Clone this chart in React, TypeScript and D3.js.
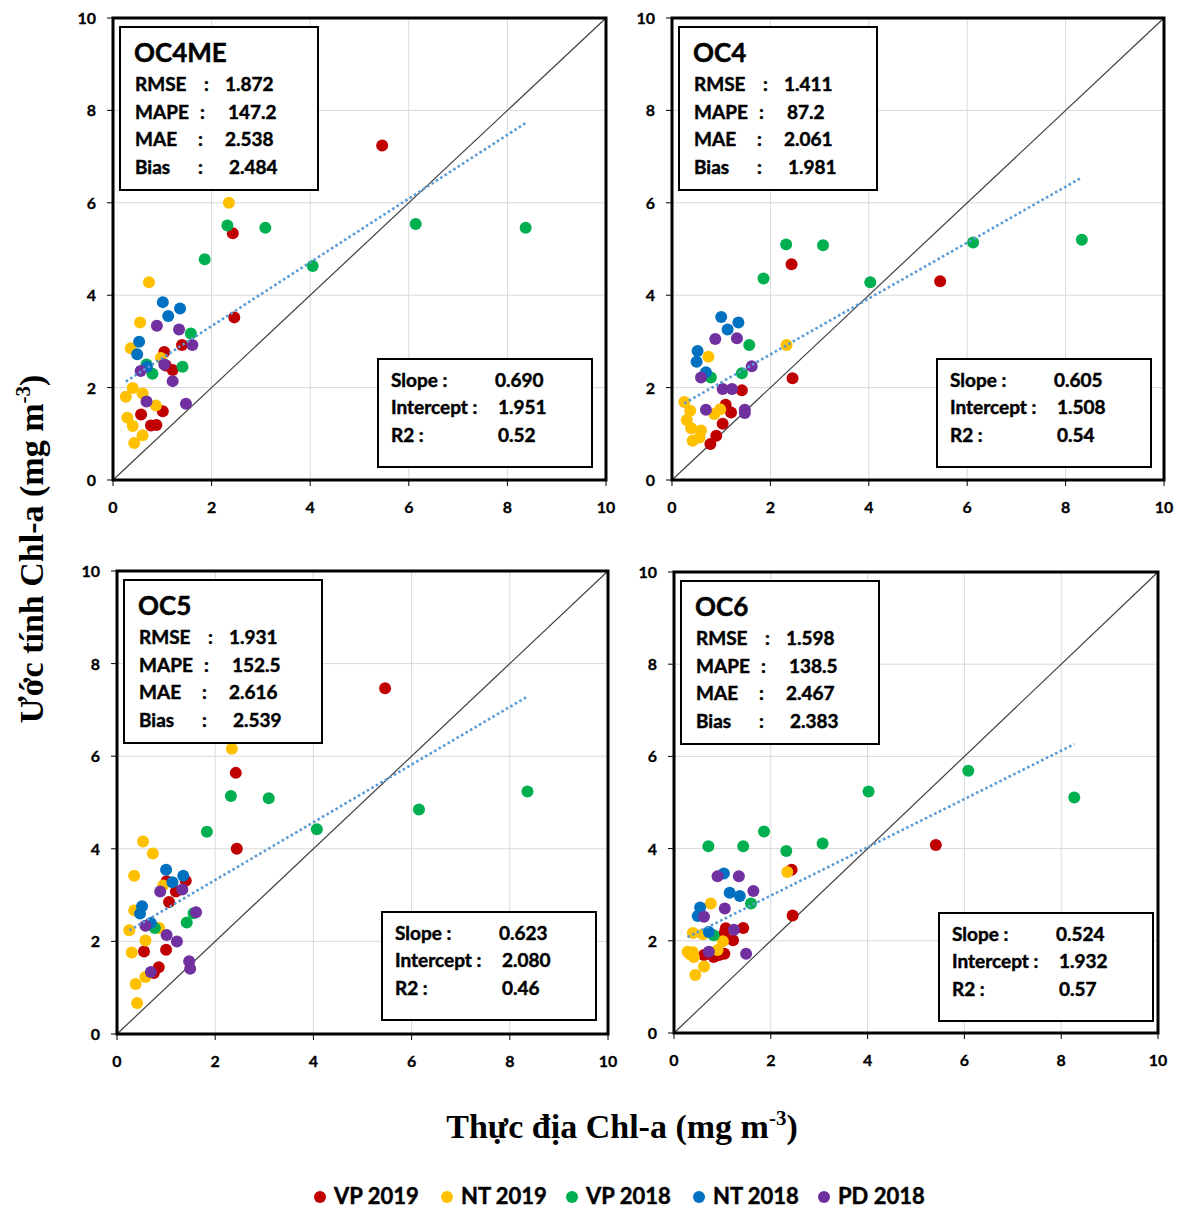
import React from "react";
import * as d3 from "d3";

type Pt = [number, number];

// ---------- data ----------
const seriesNames = ["VP 2019", "NT 2019", "VP 2018", "NT 2018", "PD 2018"];
const seriesColors = ["#c00000", "#ffc000", "#00b050", "#0070c0", "#7030a0"];
const axisTicks = [0, 2, 4, 6, 8, 10];

// OC4ME
const oc4me_VP2019: Pt[] = [[5.46, 7.24], [2.43, 5.34], [2.46, 3.52], [1.40, 2.92], [1.04, 2.77], [1.21, 2.38], [1.07, 2.48], [1.01, 1.49], [0.57, 1.42], [0.77, 1.18], [0.88, 1.19]];
const oc4me_NT2019: Pt[] = [[2.35, 6.0], [0.73, 4.28], [0.55, 3.41], [0.36, 2.85], [0.97, 2.64], [0.40, 1.99], [0.26, 1.80], [0.60, 1.87], [0.87, 1.61], [0.29, 1.35], [0.40, 1.17], [0.60, 0.97], [0.43, 0.80]];
const oc4me_VP2018: Pt[] = [[2.32, 5.51], [3.09, 5.46], [1.86, 4.78], [4.05, 4.63], [6.14, 5.54], [8.37, 5.46], [1.58, 3.17], [1.41, 2.45], [0.68, 2.50], [0.80, 2.30]];
const oc4me_NT2018: Pt[] = [[1.01, 3.85], [1.36, 3.71], [1.12, 3.55], [0.53, 2.99], [0.49, 2.72], [0.69, 2.45]];
const oc4me_PD2018: Pt[] = [[0.89, 3.34], [1.34, 3.26], [1.61, 2.92], [1.04, 2.50], [0.56, 2.36], [1.21, 2.14], [0.68, 1.70], [1.48, 1.65]];

// OC4
const oc4_VP2019: Pt[] = [[5.45, 4.30], [2.43, 4.67], [2.45, 2.20], [1.42, 1.94], [1.09, 1.63], [1.20, 1.46], [1.03, 1.22], [0.90, 0.96], [0.78, 0.78]];
const oc4_NT2019: Pt[] = [[2.33, 2.92], [0.74, 2.67], [0.25, 1.69], [0.37, 1.50], [0.30, 1.30], [0.39, 1.12], [0.59, 1.07], [0.56, 0.92], [0.42, 0.85], [0.86, 1.43], [0.98, 1.53]];
const oc4_VP2018: Pt[] = [[2.32, 5.10], [3.07, 5.08], [1.86, 4.36], [4.03, 4.28], [6.12, 5.14], [8.33, 5.20], [1.57, 2.92], [1.42, 2.31], [0.79, 2.22], [0.68, 2.30]];
const oc4_NT2018: Pt[] = [[1.0, 3.53], [1.35, 3.41], [1.13, 3.26], [0.52, 2.79], [0.50, 2.56], [0.69, 2.33]];
const oc4_PD2018: Pt[] = [[0.88, 3.05], [1.32, 3.07], [1.62, 2.46], [0.59, 2.22], [1.03, 1.97], [1.22, 1.97], [0.69, 1.52], [1.48, 1.52], [1.48, 1.45]];

// OC5
const oc5_VP2019: Pt[] = [[5.46, 7.47], [2.42, 5.64], [2.44, 4.00], [1.40, 3.31], [1.01, 3.30], [1.20, 3.08], [1.06, 2.85], [1.00, 1.82], [0.55, 1.78], [0.85, 1.44], [0.75, 1.32]];
const oc5_NT2019: Pt[] = [[2.34, 6.16], [0.53, 4.16], [0.73, 3.90], [0.35, 3.42], [0.94, 3.21], [0.35, 2.67], [0.25, 2.24], [0.86, 2.29], [0.58, 2.02], [0.30, 1.76], [0.58, 1.23], [0.38, 1.08], [0.41, 0.67]];
const oc5_VP2018: Pt[] = [[2.32, 5.14], [3.09, 5.09], [1.83, 4.37], [4.07, 4.42], [6.15, 4.85], [8.36, 5.24], [1.56, 2.61], [1.42, 2.41], [0.77, 2.29], [0.67, 2.36]];
const oc5_NT2018: Pt[] = [[1.0, 3.55], [1.35, 3.42], [1.13, 3.28], [0.51, 2.76], [0.47, 2.60], [0.69, 2.40]];
const oc5_PD2018: Pt[] = [[0.88, 3.08], [1.33, 3.12], [1.61, 2.63], [0.58, 2.34], [1.01, 2.14], [1.22, 2.0], [0.69, 1.34], [1.47, 1.57], [1.49, 1.41]];

// OC6
const oc6_VP2019: Pt[] = [[5.41, 4.08], [2.43, 3.54], [2.45, 2.55], [1.43, 2.28], [1.07, 2.27], [1.04, 2.16], [1.22, 2.01], [1.04, 1.72], [0.82, 1.65], [0.62, 1.69], [0.93, 1.69]];
const oc6_NT2019: Pt[] = [[2.34, 3.49], [0.76, 2.81], [0.39, 2.17], [0.60, 2.14], [1.01, 1.99], [0.90, 1.80], [0.28, 1.76], [0.39, 1.75], [0.41, 1.65], [0.33, 1.71], [0.62, 1.44], [0.44, 1.26]];
const oc6_VP2018: Pt[] = [[4.02, 5.24], [1.86, 4.37], [3.07, 4.11], [0.71, 4.05], [1.43, 4.05], [2.32, 3.95], [6.08, 5.69], [8.27, 5.11], [1.59, 2.81], [0.82, 2.12]];
const oc6_NT2018: Pt[] = [[1.03, 3.46], [1.15, 3.04], [1.36, 2.97], [0.54, 2.72], [0.49, 2.54], [0.72, 2.19]];
const oc6_PD2018: Pt[] = [[0.90, 3.40], [1.34, 3.40], [1.64, 3.08], [1.05, 2.70], [0.62, 2.52], [1.24, 2.24], [0.72, 1.76], [1.49, 1.72]];

const panelTitles = ["OC4ME", "OC4", "OC5", "OC6"];
const rmse = ["1.872", "1.411", "1.931", "1.598"];
const mape = ["147.2", "87.2", "152.5", "138.5"];
const mae = ["2.538", "2.061", "2.616", "2.467"];
const bias = ["2.484", "1.981", "2.539", "2.383"];
const slopes = [0.690, 0.605, 0.623, 0.524];
const intercepts = [1.951, 1.508, 2.080, 1.932];
const r2 = ["0.52", "0.54", "0.46", "0.57"];

const panelData: Pt[][][] = [
  [oc4me_VP2019, oc4me_NT2019, oc4me_VP2018, oc4me_NT2018, oc4me_PD2018],
  [oc4_VP2019, oc4_NT2019, oc4_VP2018, oc4_NT2018, oc4_PD2018],
  [oc5_VP2019, oc5_NT2019, oc5_VP2018, oc5_NT2018, oc5_PD2018],
  [oc6_VP2019, oc6_NT2019, oc6_VP2018, oc6_NT2018, oc6_PD2018],
];

// ---------- layout ----------
const W = 1184;
const H = 1209;
const frames = [
  { left: 113, top: 18, right: 606, bottom: 480 },
  { left: 672, top: 18, right: 1164, bottom: 480 },
  { left: 117, top: 571, right: 608, bottom: 1034 },
  { left: 674, top: 572, right: 1158, bottom: 1033 },
];
const SANS = "Lato, 'Open Sans', sans-serif";
const SERIF = "'Liberation Serif', 'DejaVu Serif', serif";
const heavy = { stroke: "#000", strokeWidth: 0.45 };

function Panel({ i }: { i: number }) {
  const f = frames[i];
  const x = d3.scaleLinear().domain([0, 10]).range([f.left, f.right]);
  const y = d3.scaleLinear().domain([0, 10]).range([f.bottom, f.top]);
  const data = panelData[i];
  const allX = data.flat().map((p) => p[0]);
  const x0 = d3.min(allX) as number;
  const x1 = d3.max(allX) as number;
  const fit = (v: number) => slopes[i] * v + intercepts[i];
  const trend = d3.line<number>().x((v) => x(v)).y((v) => y(fit(v)))([x0, x1]) || "";
  const bx = f.left + 7;
  const by = f.top + 9;
  const rx = f.left + 265;
  const ry = f.top + 341;
  const rows = [
    { l: "RMSE", c: ":", cx: 84, v: rmse[i], vx: 105 },
    { l: "MAPE", c: ":", cx: 80, v: mape[i], vx: 108 },
    { l: "MAE", c: ":", cx: 78, v: mae[i], vx: 105 },
    { l: "Bias", c: ":", cx: 78, v: bias[i], vx: 109 },
  ];
  return (
    <g>
      {/* grid */}
      {axisTicks.slice(1, -1).map((t) => (
        <g key={"g" + t}>
          <line x1={x(t)} x2={x(t)} y1={f.top} y2={f.bottom} stroke="#d9d9d9" strokeWidth={1} />
          <line x1={f.left} x2={f.right} y1={y(t)} y2={y(t)} stroke="#d9d9d9" strokeWidth={1} />
        </g>
      ))}
      {/* ticks */}
      {axisTicks.map((t) => (
        <g key={"t" + t}>
          <line x1={f.left - 6} x2={f.left} y1={y(t)} y2={y(t)} stroke="#000" strokeWidth={1} />
          <text x={f.left - 17} y={y(t) + 6} textAnchor="end" fontFamily={SANS} fontWeight={700} fontSize={16} {...heavy} strokeWidth={0.3}>{t}</text>
          <line x1={x(t)} x2={x(t)} y1={f.bottom} y2={f.bottom + 6} stroke="#000" strokeWidth={1} />
          <text x={x(t)} y={f.bottom + 33} textAnchor="middle" fontFamily={SANS} fontWeight={700} fontSize={16} {...heavy} strokeWidth={0.3}>{t}</text>
        </g>
      ))}
      {/* 1:1 line */}
      <line x1={x(0)} y1={y(0)} x2={x(10)} y2={y(10)} stroke="#404040" strokeWidth={1.2} />
      {/* points */}
      {data.map((s, si) => (
        <g key={"s" + si} fill={seriesColors[si]}>
          {s.map((p, pi) => (
            <circle key={pi} cx={x(p[0])} cy={y(p[1])} r={6} />
          ))}
        </g>
      ))}
      {/* trend */}
      <path d={trend} fill="none" stroke="#5b9bd5" strokeWidth={2.6} strokeDasharray="2.6 2.6" />
      {/* frame */}
      <rect x={f.left} y={f.top} width={f.right - f.left} height={f.bottom - f.top} fill="none" stroke="#000" strokeWidth={3} />
      {/* stats box */}
      <rect x={bx} y={by} width={198} height={163} fill="#fff" stroke="#000" strokeWidth={2} />
      <text x={bx + 14} y={by + 35} fontFamily={SANS} fontWeight={700} fontSize={26} {...heavy}>{panelTitles[i]}</text>
      {rows.map((r, k) => (
        <g key={r.l} fontFamily={SANS} fontWeight={700} fontSize={19} {...heavy}>
          <text x={bx + 15} y={by + 64 + k * 27.5}>{r.l}</text>
          <text x={bx + r.cx} y={by + 64 + k * 27.5}>{r.c}</text>
          <text x={bx + r.vx} y={by + 64 + k * 27.5}>{r.v}</text>
        </g>
      ))}
      {/* regression box */}
      <rect x={rx} y={ry} width={214} height={108} fill="#fff" stroke="#000" strokeWidth={2} />
      <g fontFamily={SANS} fontWeight={700} fontSize={19} {...heavy}>
        <text x={rx + 13} y={ry + 28}>Slope :</text>
        <text x={rx + 117} y={ry + 28}>{slopes[i].toFixed(3)}</text>
        <text x={rx + 13} y={ry + 55}>Intercept :</text>
        <text x={rx + 120} y={ry + 55}>{intercepts[i].toFixed(3)}</text>
        <text x={rx + 13} y={ry + 83}>R2 :</text>
        <text x={rx + 120} y={ry + 83}>{r2[i]}</text>
      </g>
    </g>
  );
}

export default function App() {
  const legendX = [320, 447, 572, 699, 824];
  return (
    <svg width={W} height={H} viewBox={`0 0 ${W} ${H}`} style={{ position: "absolute", left: 0, top: 0, background: "#fff" }}>
      <rect x={0} y={0} width={W} height={H} fill="#fff" />
      {panelTitles.map((_, i) => (
        <Panel key={i} i={i} />
      ))}
      {/* Y axis title */}
      <text transform="translate(43,549) rotate(-90)" textAnchor="middle" fontFamily={SERIF} fontWeight={700} fontSize={34}>
        Ước tính Chl-a (mg m<tspan fontSize={21} dy={-13}>-3</tspan><tspan dy={13}>)</tspan>
      </text>
      {/* X axis title */}
      <text x={622} y={1138} textAnchor="middle" fontFamily={SERIF} fontWeight={700} fontSize={34}>
        Thực địa Chl-a (mg m<tspan fontSize={21} dy={-13}>-3</tspan><tspan dy={13}>)</tspan>
      </text>
      {/* legend */}
      {seriesNames.map((n, k) => (
        <g key={n}>
          <circle cx={legendX[k]} cy={1197} r={6} fill={seriesColors[k]} />
          <text x={legendX[k] + 14} y={1204} fontFamily={SANS} fontWeight={700} fontSize={22} {...heavy}>{n}</text>
        </g>
      ))}
    </svg>
  );
}
